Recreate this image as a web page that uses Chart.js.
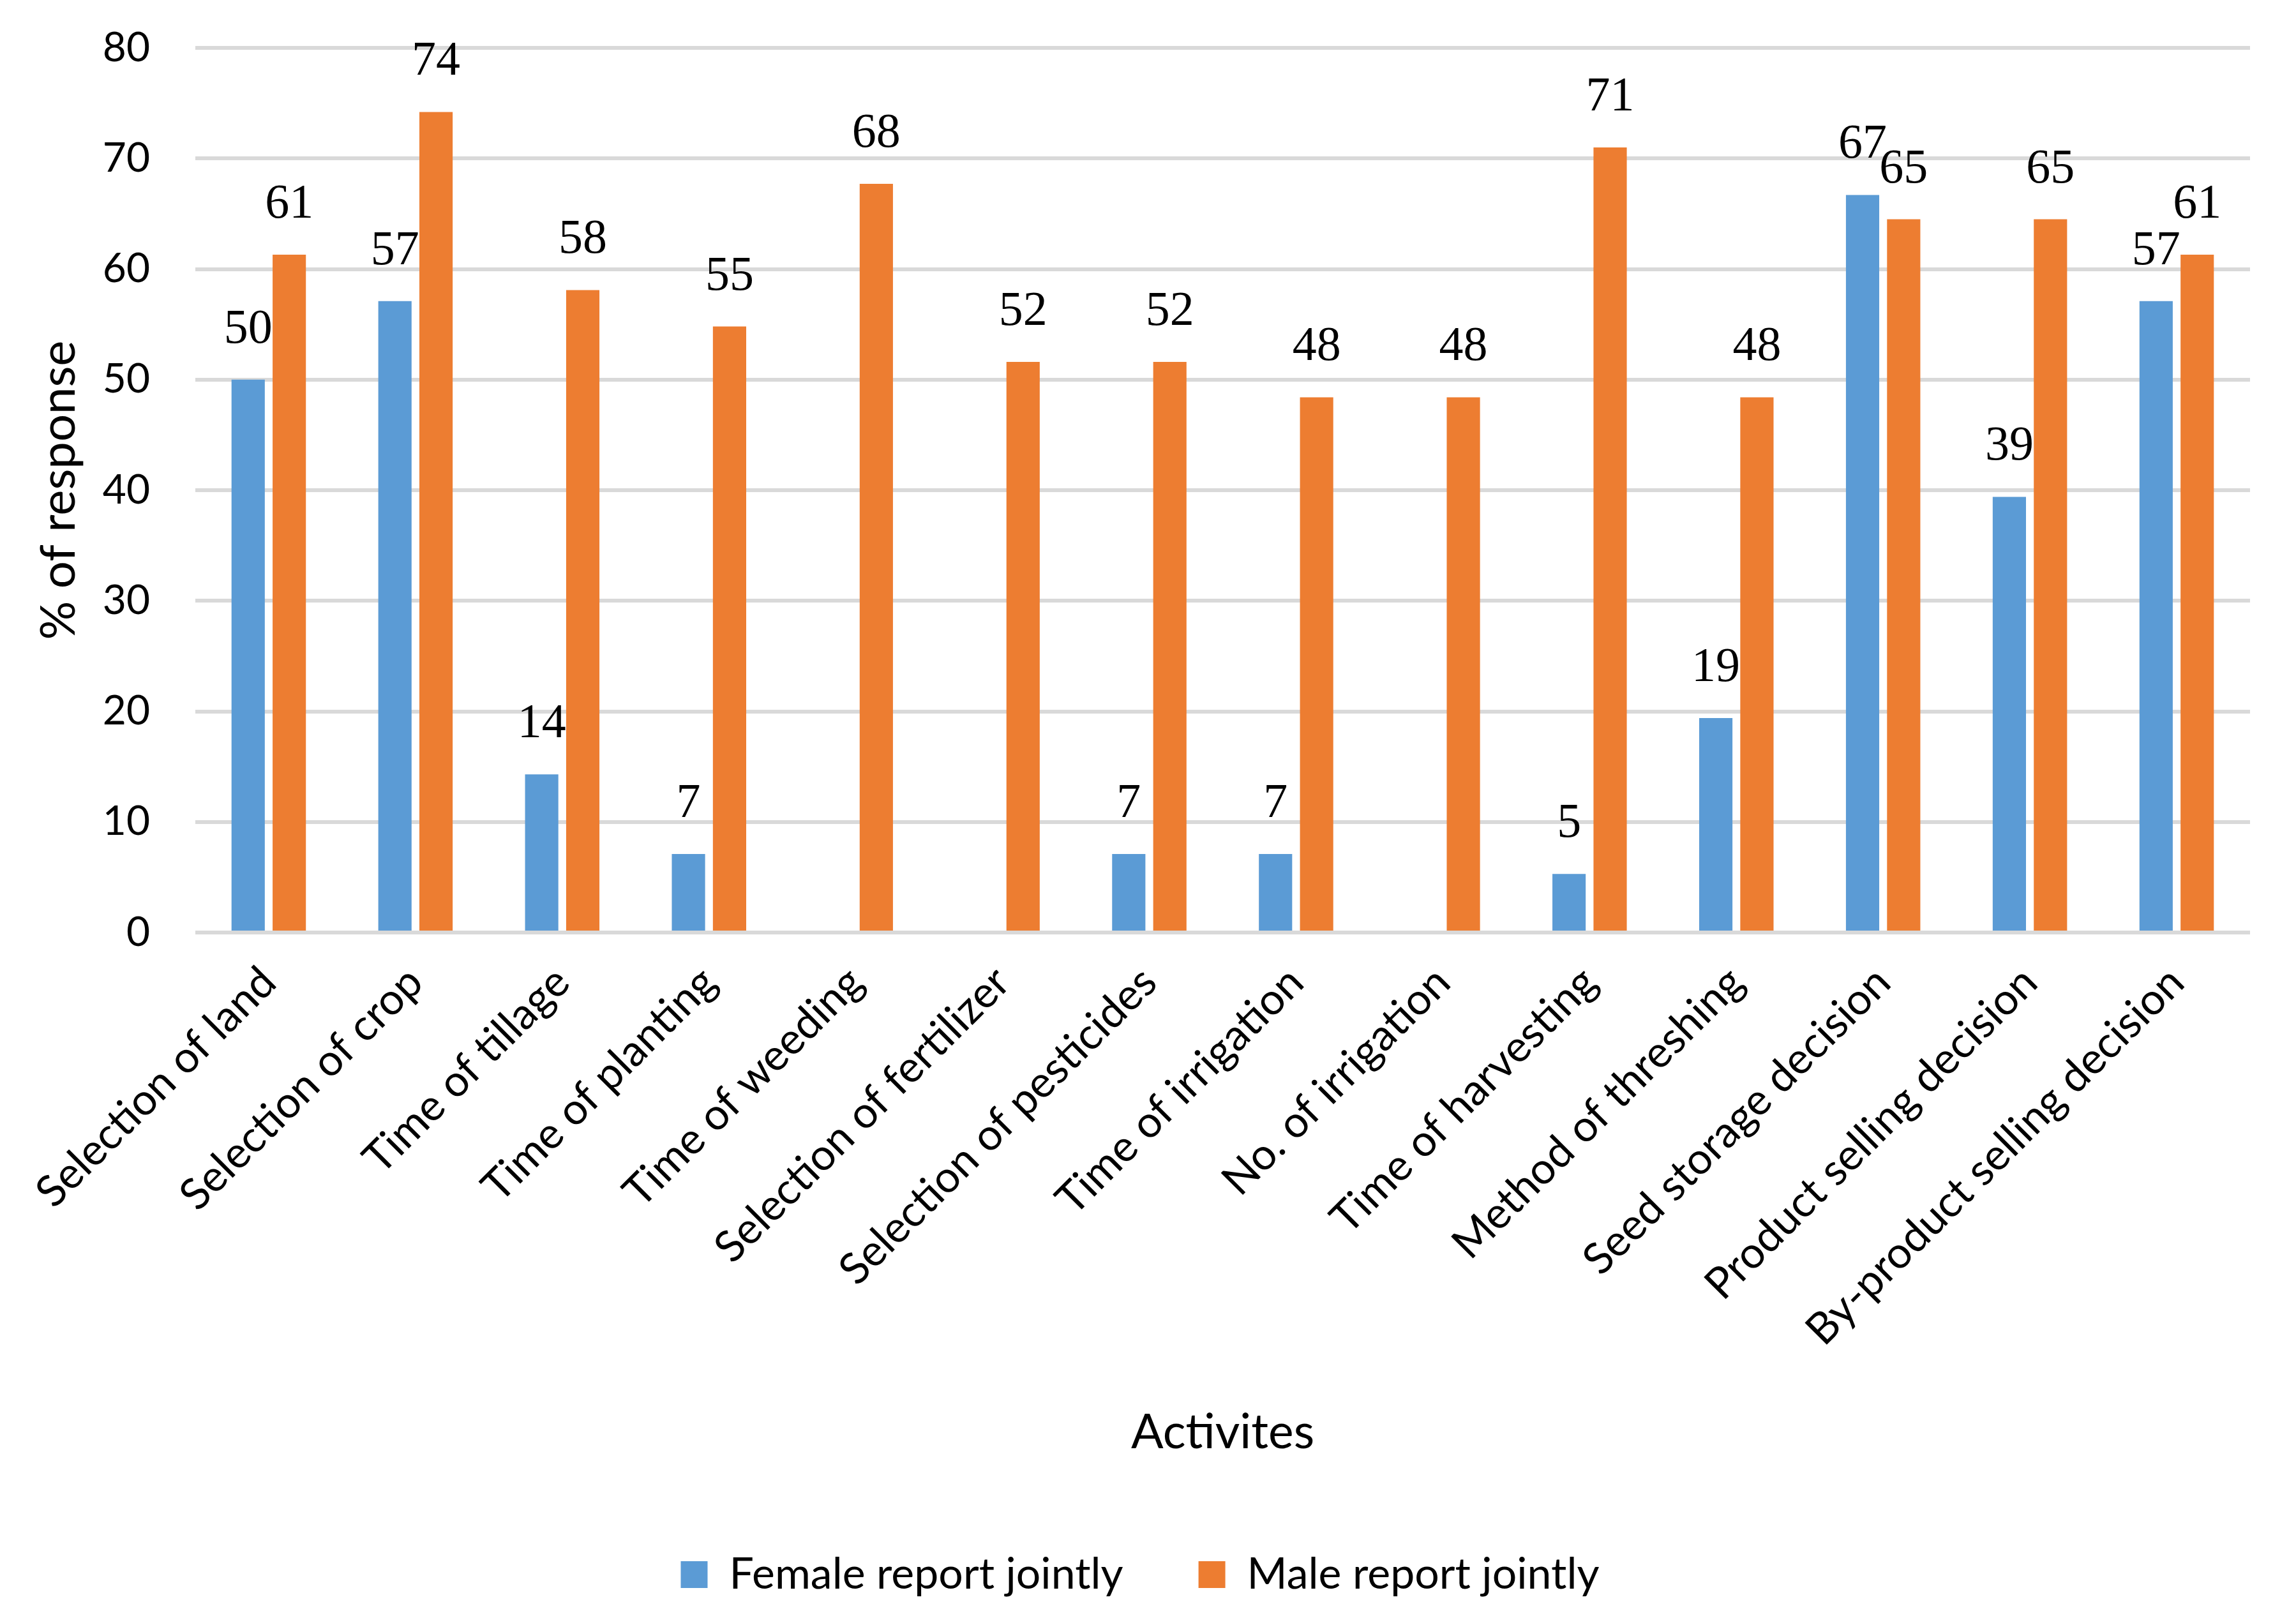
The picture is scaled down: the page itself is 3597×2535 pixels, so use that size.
<!DOCTYPE html>
<html>
<head>
<meta charset="utf-8">
<script src="https://cdn.jsdelivr.net/npm/chart.js@4.4.1/dist/chart.umd.min.js"></script>
<style>
  html, body { margin: 0; padding: 0; background: #fff; }
  #wrap { width: 3597px; height: 2535px; }
</style>
</head>
<body>
<div id="wrap"><canvas id="chart" width="3597" height="2535"></canvas></div>
<script>
// categories and series
const activities = [
  "Selection of land", "Selection of crop", "Time of tillage", "Time of planting",
  "Time of weeding", "Selection of fertilizer", "Selection of pesticides",
  "Time of irrigation", "No. of irrigation", "Time of harvesting",
  "Method of threshing", "Seed storage decision", "Product selling decision",
  "By-product selling decision"
];
const femaleJointly = [50, 57.1, 14.3, 7.1, 0, 0, 7.1, 7.1, 0, 5.3, 19.4, 66.7, 39.4, 57.1];
const maleJointly = [61.3, 74.2, 58.1, 54.8, 67.7, 51.6, 51.6, 48.4, 48.4, 71.0, 48.4, 64.5, 64.5, 61.3];
const yMin = 0, yMax = 80, yStep = 10;

const sansFont = "Lato, 'Open Sans', sans-serif";

// value labels above the bars (zeros are not labelled)
const barLabels = {
  id: "barLabels",
  afterDatasetsDraw(chart) {
    const ctx = chart.ctx;
    ctx.save();
    ctx.fillStyle = "#000";
    ctx.font = "76px 'Liberation Serif', 'Times New Roman', serif";
    ctx.textAlign = "center";
    ctx.textBaseline = "alphabetic";
    chart.data.datasets.forEach((ds, i) => {
      const meta = chart.getDatasetMeta(i);
      meta.data.forEach((bar, j) => {
        const v = ds.data[j];
        if (!v) return;
        ctx.fillText(String(Math.round(v)), bar.x, bar.y - 58);
      });
    });
    ctx.restore();
  }
};

new Chart(document.getElementById("chart"), {
  type: "bar",
  data: {
    labels: activities,
    datasets: [
      { label: "Female report jointly", data: femaleJointly, backgroundColor: "#5B9BD5" },
      { label: "Male report jointly", data: maleJointly, backgroundColor: "#ED7D31" }
    ]
  },
  options: {
    responsive: false,
    devicePixelRatio: 1,
    animation: false,
    layout: { padding: { left: 47, right: 72, top: 75, bottom: 24 } },
    datasets: { bar: { categoryPercentage: 0.56, barPercentage: 0.81 } },
    scales: {
      x: {
        grid: { display: false },
        border: { display: false },
        ticks: {
          color: "#000",
          font: { family: sansFont, size: 68 },
          minRotation: 45,
          maxRotation: 45,
          padding: 30
        },
        title: {
          display: true,
          text: "Activites",
          color: "#000",
          font: { family: sansFont, size: 75 },
          padding: { top: 0, bottom: 25 }
        },
        afterFit(scale) { scale.height = 854; }
      },
      y: {
        min: yMin,
        max: yMax,
        ticks: {
          stepSize: yStep,
          color: "#000",
          font: { family: sansFont, size: 64 },
          padding: 3
        },
        // invisible tick marks give the gap between labels and plot
        grid: { color: "#D9D9D9", lineWidth: 6, drawTicks: true, tickLength: 68, tickColor: "rgba(0,0,0,0)" },
        border: { display: false },
        title: {
          display: true,
          text: "% of response",
          color: "#000",
          font: { family: sansFont, size: 76 },
          padding: 0
        },
        afterFit(scale) { scale.width = 259; }
      }
    },
    plugins: {
      legend: {
        position: "bottom",
        labels: {
          color: "#000",
          font: { family: sansFont, size: 68 },
          boxWidth: 42,
          boxHeight: 42,
          padding: 118
        }
      },
      tooltip: { enabled: false }
    }
  },
  plugins: [barLabels]
});
</script>
</body>
</html>
